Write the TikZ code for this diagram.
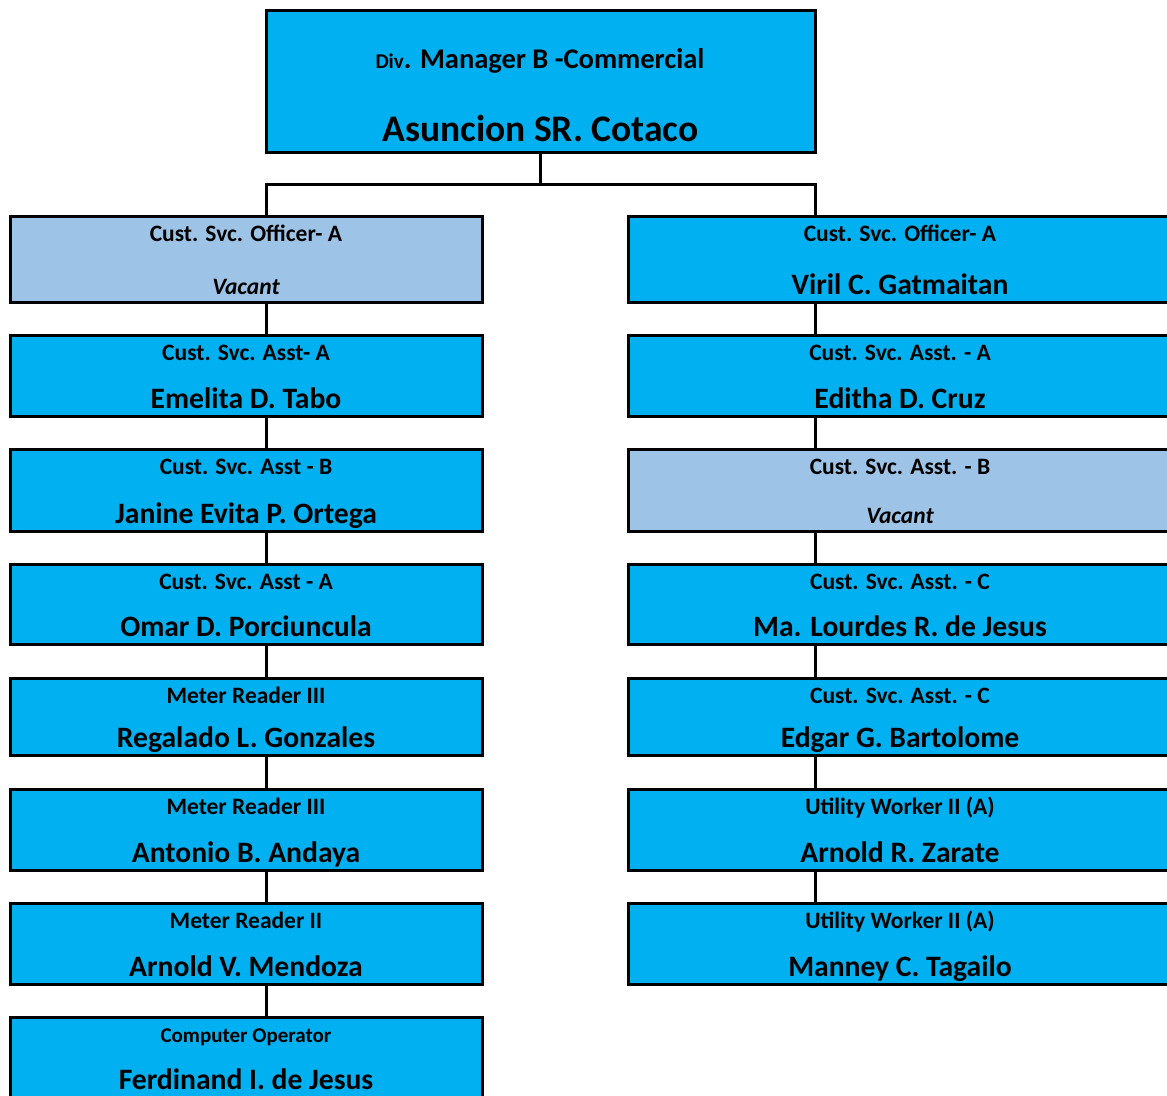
\documentclass[tikz,border=0pt]{standalone}
\usepackage{fontspec}
\setmainfont{Carlito}
\definecolor{cyanbox}{HTML}{00B0F0}
\definecolor{vacbox}{HTML}{9DC3E6}
\newcommand\orgbox[8]{%
  \node[#6, minimum width=#5pt, minimum height={(#4-#3)*1pt}] (#1) at (#2,{(#3+#4)/2}) {};
  \node[ttl] (#1t) at (#2,#3+25.5) {#7};
  \node[nm] (#1n) at (#2,#4-8) {#8};
}
\begin{document}
\begin{tikzpicture}[x=1pt,y=-1pt,
  box/.style={draw=black, fill=cyanbox, line width=3pt, inner sep=0pt},
  vac/.style={box, fill=vacbox},
  ttl/.style={anchor=base, inner sep=0pt, font=\fontsize{23.5}{24}\selectfont\bfseries},
  nm/.style={anchor=base, inner sep=0pt, font=\fontsize{29.6}{30}\selectfont\bfseries},
  vacname/.style={anchor=base, inner sep=0pt, font=\fontsize{23.5}{24}\selectfont\bfseries\itshape},
  conn/.style={draw=black, line width=3pt}]
\useasboundingbox (0,0) rectangle (1167,1095);
\clip (0,0) rectangle (1167,1095);

% top box
\node[box, minimum width=549pt, minimum height=142pt] (T) at (540.5,81) {};
\node[anchor=base, inner sep=0pt] (Tt) at (540,68) {\bfseries{\fontsize{21}{21}\selectfont Div}\fontsize{28.5}{29}\selectfont . Manager B -Commercial};
\node[anchor=base, inner sep=0pt, font=\fontsize{37.5}{38}\selectfont\bfseries] (Tn) at (540.5,141) {Asuncion SR. Cotaco};

\coordinate (xL) at (266,0);
\coordinate (xR) at (815,0);
\coordinate (J) at (540.5,184);

% left column
\orgbox{L1}{246}{216}{302}{472}{vac}{Cust. Svc. Officer- A}{}
\node[vacname] (L1v) at (246,294) {Vacant};
\orgbox{L2}{246}{335}{416}{472}{box}{Cust. Svc. Asst- A}{Emelita D. Tabo}
\orgbox{L3}{246}{449}{531}{472}{box}{Cust. Svc. Asst - B}{Janine Evita P. Ortega}
\orgbox{L4}{246}{564}{644}{472}{box}{Cust. Svc. Asst - A}{Omar D. Porciuncula}
\orgbox{L5}{246}{678}{755}{472}{box}{Meter Reader III}{Regalado L. Gonzales}
\orgbox{L6}{246}{789}{870}{472}{box}{Meter Reader III}{Antonio B. Andaya}
\orgbox{L7}{246}{903}{984}{472}{box}{Meter Reader II}{Arnold V. Mendoza}
\node[box, minimum width=472pt, minimum height=100pt] (L8) at (246,1067) {};
\node[anchor=base, inner sep=0pt, font=\fontsize{21}{22}\selectfont\bfseries] (L8t) at (246,1042) {Computer Operator};
\node[nm] (L8n) at (246,1089) {Ferdinand I. de Jesus};

% right column
\orgbox{R1}{900}{216}{302}{544}{box}{Cust. Svc. Officer- A}{Viril C. Gatmaitan}
\orgbox{R2}{900}{335}{416}{544}{box}{Cust. Svc. Asst. - A}{Editha D. Cruz}
\orgbox{R3}{900}{449}{531}{544}{vac}{Cust. Svc. Asst. - B}{}
\node[vacname] (R3v) at (900,523) {Vacant};
\orgbox{R4}{900}{564}{644}{544}{box}{Cust. Svc. Asst. - C}{Ma. Lourdes R. de Jesus}
\orgbox{R5}{900}{678}{755}{544}{box}{Cust. Svc. Asst. - C}{Edgar G. Bartolome}
\orgbox{R6}{900}{789}{870}{544}{box}{Utility Worker II (A)}{Arnold R. Zarate}
\orgbox{R7}{900}{903}{984}{544}{box}{Utility Worker II (A)}{Manney C. Tagailo}

% connectors
\draw[conn] (T.south) -- (J);
\draw[conn] (L1.north -| xL) -- (xL |- J) -- (xR |- J) -- (R1.north -| xR);
\draw[conn] (L1.south -| xL) -- (L2.north -| xL);
\draw[conn] (L2.south -| xL) -- (L3.north -| xL);
\draw[conn] (L3.south -| xL) -- (L4.north -| xL);
\draw[conn] (L4.south -| xL) -- (L5.north -| xL);
\draw[conn] (L5.south -| xL) -- (L6.north -| xL);
\draw[conn] (L6.south -| xL) -- (L7.north -| xL);
\draw[conn] (L7.south -| xL) -- (L8.north -| xL);
\draw[conn] (R1.south -| xR) -- (R2.north -| xR);
\draw[conn] (R2.south -| xR) -- (R3.north -| xR);
\draw[conn] (R3.south -| xR) -- (R4.north -| xR);
\draw[conn] (R4.south -| xR) -- (R5.north -| xR);
\draw[conn] (R5.south -| xR) -- (R6.north -| xR);
\draw[conn] (R6.south -| xR) -- (R7.north -| xR);
\end{tikzpicture}
\end{document}
